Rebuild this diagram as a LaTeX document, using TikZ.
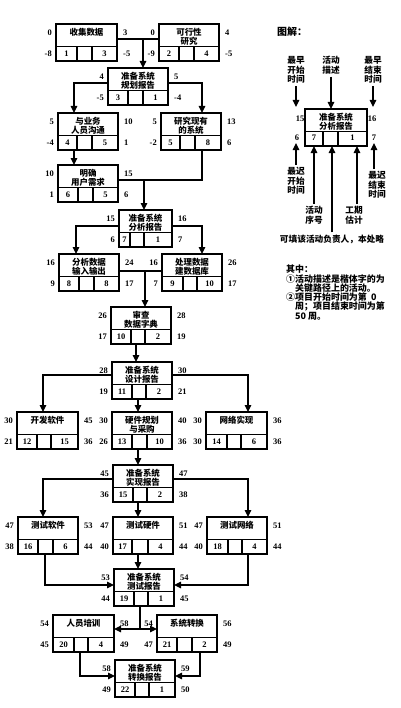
\documentclass[tikz,border=0pt]{standalone}
\usepackage{fontspec}
\setmainfont{Noto Sans CJK SC}
\newfontfamily\numf{Liberation Serif}
\usetikzlibrary{arrows.meta,calc}

\tikzset{
 actbox/.style={draw, line width=1.6bp, minimum height=37bp, inner sep=0pt, outer sep=0pt},
 divln/.style={line width=1.4bp},
 acttext/.style={font=\fontsize{8.5}{9.2}\selectfont\bfseries, align=center, inner sep=0pt},
 num/.style={font=\fontsize{8.5}{9}\selectfont\numf\bfseries, inner sep=0pt},
 ln/.style={line width=1.2bp},
 arr/.style={line width=1.2bp, -{Triangle[length=7bp,width=6.5bp]}},
 lgtext/.style={font=\fontsize{8.7}{9.7}\selectfont\bfseries, align=center, inner sep=0pt},
}

\newcommand\actbox[7]{%
  \node[actbox, minimum width=#4bp, anchor=north west] (#1) at (#2,#3) {};
  \draw[divln] ($(#1.north west)+(0,22.5)$) -- ($(#1.north east)+(0,22.5)$);
  \draw[divln] ($(#1.north west)+(#5,22.5)$) -- ($(#1.south west)+(#5,0)$);
  \draw[divln] ($(#1.north west)+(#6,22.5)$) -- ($(#1.south west)+(#6,0)$);
  \node[acttext, anchor=north] (#1t) at ($(#1.north)+(0,3.8)$) {#7};
  \xdef\curcA{#5}\xdef\curcB{#6}\xdef\curW{#4}%
}
\newcommand\actnums[7]{%
  \node[num, anchor=east] (#1es) at ($(#1.north west)+(-4,9)$) {#2};
  \node[num, anchor=west] (#1ef) at ($(#1.north east)+(6,9)$) {#3};
  \node[num, anchor=east] (#1ls) at ($(#1.north west)+(-4,29.5)$) {#4};
  \node[num, anchor=west] (#1lf) at ($(#1.north east)+(6,29.5)$) {#5};
  \node[num] (#1n) at ($(#1.north west)+({\curcA/2},29.75)$) {#6};
  \node[num] (#1d) at ($(#1.north west)+({(\curcB+\curW)/2},29.75)$) {#7};
}

\begin{document}
\begin{tikzpicture}[x=1bp,y=-1bp]
\useasboundingbox (0,0) rectangle (400,708);
\fill[white] (0,0) rectangle (400,708);

% ---------------- activity boxes ----------------
\actbox{a1}{56}{24}{61}{21}{36}{收集数据}
\actnums{a1}{0}{3}{-8}{-5}{1}{3}
\actbox{a2}{159}{24}{60}{20}{35}{可行性\\研究}
\actnums{a2}{0}{4}{-9}{-5}{2}{4}
\actbox{a3}{108}{68}{60}{20}{35}{准备系统\\规划报告}
\actnums{a3}{4}{5}{-5}{-4}{3}{1}
\actbox{a4}{58}{113}{60}{19}{34}{与业务\\人员沟通}
\actnums{a4}{5}{10}{-4}{1}{4}{5}
\actbox{a5}{161}{113}{60}{19}{34}{研究现有\\的系统}
\actnums{a5}{5}{13}{-2}{6}{5}{8}
\actbox{a6}{58}{165}{60}{20}{35}{明确\\用户需求}
\actnums{a6}{10}{15}{1}{6}{6}{5}
\actbox{a7}{119}{210}{53}{11}{25}{准备系统\\分析报告}
\actnums{a7}{15}{16}{6}{7}{7}{1}
\actbox{a8}{59}{254}{60}{20}{35}{分析数据\\输入输出}
\actnums{a8}{16}{24}{9}{17}{8}{8}
\actbox{a9}{162}{254}{60}{21}{35}{处理数据\\建数据库}
\actnums{a9}{16}{26}{7}{17}{9}{10}
\actbox{a10}{111}{307}{60}{20}{34}{审查\\数据字典}
\actnums{a10}{26}{28}{17}{19}{10}{2}
\actbox{a11}{112}{362}{60}{20}{34}{准备系统\\设计报告}
\actnums{a11}{28}{30}{19}{21}{11}{2}
\actbox{a12}{17}{412}{61}{20}{34}{开发软件}
\actnums{a12}{30}{45}{21}{36}{12}{15}
\actbox{a13}{112}{412}{60}{20}{35}{硬件规划\\与采购}
\actnums{a13}{30}{40}{26}{36}{13}{10}
\actbox{a14}{206}{412}{61}{21}{35}{网络实现}
\actnums{a14}{30}{36}{30}{36}{14}{6}
\actbox{a15}{113}{465}{60}{20}{34}{准备系统\\实现报告}
\actnums{a15}{45}{47}{36}{38}{15}{2}
\actbox{a16}{18}{517}{60}{20}{35}{测试软件}
\actnums{a16}{47}{53}{38}{44}{16}{6}
\actbox{a17}{113}{517}{60}{19}{35}{测试硬件}
\actnums{a17}{47}{51}{40}{44}{17}{4}
\actbox{a18}{207}{517}{60}{21}{35}{测试网络}
\actnums{a18}{47}{51}{40}{44}{18}{4}
\actbox{a19}{114}{569}{60}{20}{34}{准备系统\\测试报告}
\actnums{a19}{53}{54}{44}{45}{19}{1}
\actbox{a20}{53}{615}{61}{21}{35}{人员培训}
\actnums{a20}{54}{58}{45}{49}{20}{4}
\actbox{a21}{157}{615}{60}{20}{35}{系统转换}
\actnums{a21}{54}{56}{47}{49}{21}{2}
\actbox{a22}{115}{660}{60}{20}{34}{准备系统\\转换报告}
\actnums{a22}{58}{59}{49}{50}{22}{1}

% ---------------- connectors ----------------
\coordinate (j1) at (143,39);
\draw[ln] (a1.east |- j1) -- (a2.west |- j1);
\draw[arr] (j1) -- (j1 |- a3.north);
\coordinate (k3l) at (74,83);
\coordinate (k3r) at (202,83);
\draw[arr] (a3.west |- k3l) -| (k3l |- a4.north);
\draw[arr] (a3.east |- k3r) -| (k3r |- a5.north);
\draw[arr] (k3l |- a4.south) -- (k3l |- a6.north);
\coordinate (j2) at (144,180);
\draw[ln] (a6.east |- j2) -- (j2);
\draw[ln] (k3r |- a5.south) |- (j2);
\draw[arr] (j2) -- (j2 |- a7.north);
\coordinate (k7l) at (76,226);
\coordinate (k7r) at (202,226);
\draw[arr] (a7.west |- k7l) -| (k7l |- a8.north);
\draw[arr] (a7.east |- k7r) -| (k7r |- a9.north);
\coordinate (j3) at (145,271);
\draw[ln] (a8.east |- j3) -- (a9.west |- j3);
\draw[arr] (j3) -- (j3 |- a10.north);
\coordinate (x10) at (136,343);
\draw[arr] (x10 |- a10.south) -- (x10 |- a11.north);
\coordinate (k11l) at (43,375);
\coordinate (k11r) at (248,375);
\coordinate (x11) at (138,400);
\draw[arr] (a11.west |- k11l) -| (k11l |- a12.north);
\draw[arr] (a11.east |- k11r) -| (k11r |- a14.north);
\draw[arr] (x11 |- a11.south) -- (x11 |- a13.north);
\draw[arr] (x11 |- a13.south) -- (x11 |- a15.north);
\coordinate (k15l) at (43,479);
\coordinate (k15r) at (248,479);
\draw[arr] (a15.west |- k15l) -| (k15l |- a16.north);
\draw[arr] (a15.east |- k15r) -| (k15r |- a18.north);
\draw[arr] (x11 |- a15.south) -- (x11 |- a17.north);
\coordinate (k16) at (45,585);
\coordinate (k18) at (248,585);
\draw[arr] (k16 |- a16.south) |- (a19.west |- k16);
\draw[arr] (k18 |- a18.south) |- (a19.east |- k18);
\draw[arr] (x11 |- a17.south) -- (x11 |- a19.north);
\coordinate (j19) at (140,629);
\draw[ln] (j19 |- a19.south) -- (j19);
\draw[arr] (j19) -- (a20.east |- j19);
\draw[arr] (j19) -- (a21.west |- j19);
\coordinate (k20) at (80,676);
\coordinate (k21) at (200,676);
\draw[arr] (k20 |- a20.south) |- (a22.west |- k20);
\draw[arr] (k21 |- a21.south) |- (a22.east |- k21);

% ---------------- legend ----------------
\node[font=\fontsize{10}{10}\selectfont\bfseries, anchor=west, inner sep=0pt] (title) at (277,32) {图解：};
\actbox{lg}{305}{109}{62}{18}{33}{准备系统\\分析报告}
\node[num] (lges) at (300,119) {15};
\node[num] (lgef) at (372,119) {16};
\node[num] (lgls) at (297,138) {6};
\node[num] (lglf) at (374,138) {7};
\node[num] (lgn) at (314,138) {7};
\node[num] (lgd) at (352.5,138) {1};

\node[lgtext] (l1) at (296,70) {最早\\开始\\时间};
\coordinate (t1) at (296,107);
\draw[arr, shorten <=2bp] (l1.south) -- (t1);
\node[lgtext] (l2) at (331,65.5) {活动\\描述};
\draw[arr, shorten <=2bp] (l2.south) -- (l2.south |- lg.north);
\node[lgtext] (l3) at (373,70) {最早\\结束\\时间};
\coordinate (t3) at (373,107);
\draw[arr, shorten <=2bp] (l3.south) -- (t3);
\node[lgtext] (l4) at (296,181) {最迟\\开始\\时间};
\coordinate (t4) at (296,143);
\draw[arr, shorten <=2bp] (l4.north) -- (t4);
\node[lgtext] (l5) at (314,215) {活动\\序号};
\draw[arr, shorten <=2bp] (l5.north) -- (l5.north |- lg.south);
\node[lgtext] (l6) at (332,239) {可填该活动负责人，本处略};
\draw[arr, shorten <=2bp] (l6.north) -- (l6.north |- lg.south);
\node[lgtext] (l7) at (354,215) {工期\\估计};
\coordinate (t7) at (357,180);
\draw[arr, shorten <=2bp] (t7 |- l7.north) -- (t7 |- lg.south);
\node[lgtext] (l8) at (377,185) {最迟\\结束\\时间};
\coordinate (t8) at (374,143);
\draw[arr, shorten <=2bp] (t8 |- l8.north) -- (t8);

% ---------------- notes ----------------
\node[font=\fontsize{9}{9.2}\selectfont\bfseries, anchor=north west, align=left, inner sep=0pt] (notes) at (286,265)
 {其中：\\
  ①活动描述是楷体字的为\\
  \phantom{①}关键路径上的活动。\\
  ②项目开始时间为第\ \ 0\\
  \phantom{①}周；项目结束时间为第\\
  \phantom{①}50 周。};
\end{tikzpicture}
\end{document}
